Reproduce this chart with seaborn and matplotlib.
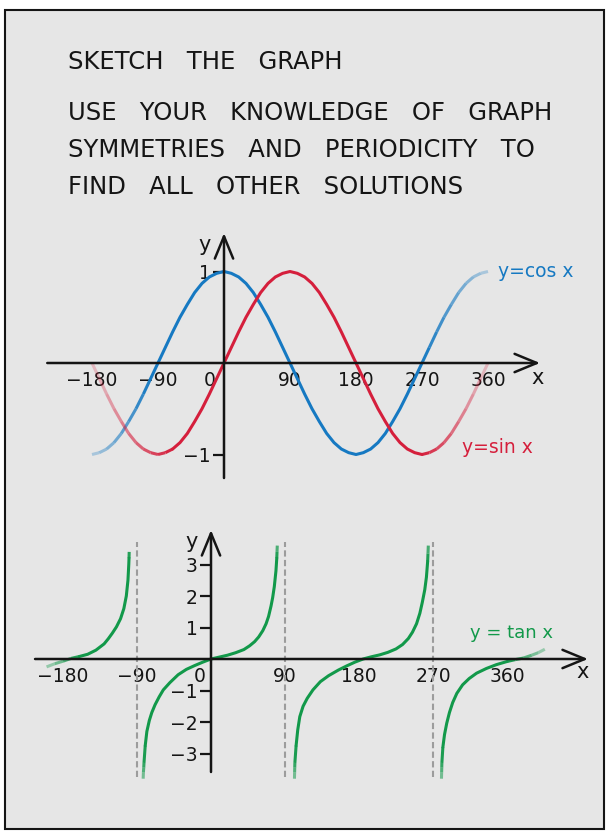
import numpy as np
import seaborn as sns
import matplotlib
matplotlib.use('Agg')
import matplotlib.pyplot as plt
from matplotlib.collections import LineCollection
from matplotlib.colors import to_rgba
from matplotlib.patches import Rectangle
from matplotlib.transforms import ScaledTranslation

# ---- data ----
deg = [-180, -170, -160, -150, -140, -130, -120, -110, -100, -90, -80, -70, -60, -50, -40, -30, -20, -10,
       0, 10, 20, 30, 40, 50, 60, 70, 80, 90, 100, 110, 120, 130, 140, 150, 160, 170,
       180, 190, 200, 210, 220, 230, 240, 250, 260, 270, 280, 290, 300, 310, 320, 330, 340, 350, 360]
cos_y = [-1, -0.98, -0.94, -0.87, -0.77, -0.64, -0.5, -0.34, -0.17, 0, 0.17, 0.34, 0.5, 0.64, 0.77, 0.87, 0.94, 0.98,
         1, 0.98, 0.94, 0.87, 0.77, 0.64, 0.5, 0.34, 0.17, 0, -0.17, -0.34, -0.5, -0.64, -0.77, -0.87, -0.94, -0.98,
         -1, -0.98, -0.94, -0.87, -0.77, -0.64, -0.5, -0.34, -0.17, 0, 0.17, 0.34, 0.5, 0.64, 0.77, 0.87, 0.94, 0.98, 1]
sin_y = [0, -0.17, -0.34, -0.5, -0.64, -0.77, -0.87, -0.94, -0.98, -1, -0.98, -0.94, -0.87, -0.77, -0.64, -0.5, -0.34, -0.17,
         0, 0.17, 0.34, 0.5, 0.64, 0.77, 0.87, 0.94, 0.98, 1, 0.98, 0.94, 0.87, 0.77, 0.64, 0.5, 0.34, 0.17,
         0, -0.17, -0.34, -0.5, -0.64, -0.77, -0.87, -0.94, -0.98, -1, -0.98, -0.94, -0.87, -0.77, -0.64, -0.5, -0.34, -0.17, 0]

# tan branches (x in degrees, y)
tan_a_x = [-200, -190, -180, -170, -160, -150, -140, -130, -125, -120, -115, -110, -106, -103, -101, -100, -99.7, -99.5]
tan_a_y = [-0.25, -0.15, -0.07, 0.02, 0.08, 0.15, 0.28, 0.48, 0.64, 0.82, 1.02, 1.28, 1.6, 2.0, 2.5, 3.0, 3.2, 3.4]
tan_b_x = [-82.5, -82.2, -81.8, -81.5, -80, -78, -75, -72, -68, -63, -58, -50, -40, -30, -20, -10, 0, 10, 20, 30, 40,
           47, 53, 58, 63, 67, 70, 73, 75, 77, 79, 80, 80.3, 80.6]
tan_b_y = [-3.8, -3.6, -3.45, -3.3, -2.75, -2.3, -1.95, -1.7, -1.45, -1.2, -0.98, -0.75, -0.5, -0.33, -0.21, -0.1, 0, 0.06, 0.12,
           0.2, 0.3, 0.42, 0.55, 0.7, 0.9, 1.12, 1.35, 1.68, 1.95, 2.3, 2.8, 3.2, 3.4, 3.6]
tan_c_x = [101.5, 101.7, 101.85, 102, 103.5, 105.5, 108, 112, 117, 124, 133, 143, 155, 165, 175, 185, 195, 205, 215, 225,
           233, 240, 245, 250, 254, 257, 260, 262, 263.5, 263.9, 264.3]
tan_c_y = [-3.8, -3.6, -3.45, -3.3, -2.75, -2.25, -1.83, -1.5, -1.25, -0.98, -0.72, -0.53, -0.35, -0.22, -0.1, 0, 0.07, 0.13,
           0.21, 0.32, 0.46, 0.65, 0.85, 1.12, 1.45, 1.8, 2.2, 2.6, 3.1, 3.35, 3.6]
tan_d_x = [280.3, 280.5, 280.65, 280.8, 282, 284, 286.7, 290, 294, 299, 306, 314, 323, 335, 347, 360, 370, 380, 390, 398, 406]
tan_d_y = [-3.8, -3.6, -3.45, -3.3, -2.8, -2.4, -2.04, -1.7, -1.38, -1.09, -0.82, -0.62, -0.45, -0.3, -0.18, -0.08, -0.02,
           0.03, 0.12, 0.2, 0.31]

x_ticks = [-180, -90, 0, 90, 180, 270, 360]
x_tick_labels = ['\u2212180', '\u221290', '0', '90', '180', '270', '360']
trig_y_ticks = [-1, 1]
trig_y_labels = ['\u22121', '1']
tan_y_ticks = [-3, -2, -1, 1, 2, 3]
tan_y_labels = ['\u22123', '\u22122', '\u22121', '1', '2', '3']
asymptotes = [-90, 90, 270]

title = 'SKETCH   THE   GRAPH'
body = ['USE   YOUR   KNOWLEDGE   OF   GRAPH',
        'SYMMETRIES   AND   PERIODICITY   TO',
        'FIND   ALL   OTHER   SOLUTIONS']

BLUE = '#1679c2'
RED = '#d51f3c'
GREEN = '#12994a'
INK = '#151515'
CARD = '#e6e6e6'
LW = 2.2

sns.set_theme(style='white')
plt.rcParams['font.family'] = ['DejaVu Sans']

W, H = 608, 831
fig = plt.figure(figsize=(W / 100, H / 100), dpi=100)
fig.patch.set_facecolor('white')
fig.patches.append(Rectangle((5 / W, 2 / H), 599 / W, 819 / H, transform=fig.transFigure,
                             facecolor=CARD, edgecolor=INK, lw=1.5, zorder=-5))

fig.text(68 / W, 1 - 62 / H, title, fontsize=17.5, color=INK, va='center')
for i, line in enumerate(body):
    fig.text(68 / W, 1 - (113 + 37 * i) / H, line, fontsize=17.5, color=INK, va='center')


def make_axes(box, origin, sx, sy):
    x0, x1, y0, y1 = box
    ax = fig.add_axes([x0 / W, 1 - y1 / H, (x1 - x0) / W, (y1 - y0) / H])
    ax.set_facecolor('none')
    ax.set_xlim((x0 - origin[0]) / sx, (x1 - origin[0]) / sx)
    ax.set_ylim((origin[1] - y1) / sy, (origin[1] - y0) / sy)
    for s in ['top', 'right', 'left', 'bottom']:
        ax.spines[s].set_visible(False)
    ax.spines['left'].set_position(('data', 0))
    ax.spines['bottom'].set_position(('data', 0))
    return ax


def draw_axes(ax, xr, yr):
    ap = dict(arrowstyle='->,head_length=0.8,head_width=0.33', lw=1.8, color=INK,
              shrinkA=0, shrinkB=0, mutation_scale=20)
    ax.annotate('', xy=(xr[1], 0), xytext=(xr[0], 0), arrowprops=ap)
    ax.annotate('', xy=(0, yr[1]), xytext=(0, yr[0]), arrowprops=ap)


def draw_curve(ax, xs, ys, color, alpha):
    xs = np.asarray(xs, float)
    ys = np.asarray(ys, float)
    a = (alpha[:-1] + alpha[1:]) / 2
    solid = np.r_[a >= 0.999, False] | np.r_[False, a >= 0.999]
    if solid.any():
        sns.lineplot(x=xs[solid], y=ys[solid], color=color, lw=LW, ax=ax,
                     sort=False, estimator=None, solid_capstyle='round')
    pts = np.column_stack([xs, ys]).reshape(-1, 1, 2)
    segs = np.concatenate([pts[:-1], pts[1:]], axis=1)
    faded = a < 0.999
    if faded.any():
        ax.add_collection(LineCollection(segs[faded], colors=[to_rgba(color, v) for v in a[faded]],
                                         lw=LW, capstyle='butt'))


def ramp(v, v0, v1, a0, a1):
    return np.interp(v, [v0, v1], [a0, a1])


def style_ticks(ax, yticks, ylabels, size):
    ax.set_xticks(x_ticks, x_tick_labels)
    ax.set_yticks(yticks, ylabels)
    ax.tick_params(axis='x', bottom=True, length=0, pad=6, labelsize=size, labelcolor=INK)
    ax.tick_params(axis='y', left=True, length=8, width=1.6, direction='out', color=INK, pad=1.5,
                   labelsize=size, labelcolor=INK)
    ax.grid(False)


# ---- top: sin and cos ----
ax1 = make_axes((30, 600, 220, 490), (224, 363), 66 / 90, 91.5)
draw_axes(ax1, (-241, 431), (-1.257, 1.42))
x = np.asarray(deg, float)
draw_curve(ax1, deg, cos_y, BLUE, np.minimum(ramp(x, -180, -100, 0.25, 1), ramp(x, 270, 360, 1, 0.25)))
draw_curve(ax1, deg, sin_y, RED, np.minimum(ramp(x, -180, -70, 0.2, 1), ramp(x, 270, 360, 1, 0.2)))
style_ticks(ax1, trig_y_ticks, trig_y_labels, 13.5)
ax1.annotate('y=cos x', xy=(deg[-1], cos_y[-1]), xytext=(7, 0), textcoords='offset points',
             color=BLUE, fontsize=13.5, va='center', ha='left')
ax1.annotate('y=sin x', xy=(270, -1), xytext=(29, 5), textcoords='offset points',
             color=RED, fontsize=13.5, va='center', ha='left')
ax1.text(-27, 1.29, 'y', fontsize=15, color=INK, ha='center', va='center')
ax1.text(427, -0.16, 'x', fontsize=15, color=INK, ha='center', va='center')

# ---- bottom: tan ----
ax2 = make_axes((20, 600, 520, 790), (211, 659), 74 / 90, 31.5)
ax2.vlines(asymptotes, -3.74, 3.72, colors='#9c9c9c', lw=1.5, linestyles=(0, (3, 1.6)))
draw_axes(ax2, (-214, 458.5), (-3.587, 4.095))
branches = [(tan_a_x, tan_a_y), (tan_b_x, tan_b_y), (tan_c_x, tan_c_y), (tan_d_x, tan_d_y)]
for bx, by in branches:
    bxa = np.asarray(bx, float)
    bya = np.asarray(by, float)
    a = ramp(np.abs(bya), 3.2, 3.8, 1, 0.45)
    a = np.minimum(a, ramp(bxa, -200, -160, 0.3, 1))
    a = np.minimum(a, ramp(bxa, 365, 406, 1, 0.3))
    draw_curve(ax2, bx, by, GREEN, a)
style_ticks(ax2, tan_y_ticks, tan_y_labels, 13.5)
ax2.text(315, 0.83, 'y = tan x', color=GREEN, fontsize=13, va='center', ha='left')
ax2.text(-23, 3.71, 'y', fontsize=15, color=INK, ha='center', va='center')
ax2.text(452, -0.41, 'x', fontsize=15, color=INK, ha='center', va='center')

# nudge the 0 labels left of the y axis
for ax, dx in [(ax1, -14), (ax2, -11)]:
    for lbl in ax.get_xticklabels():
        if lbl.get_text() == '0':
            lbl.set_transform(lbl.get_transform() + ScaledTranslation(dx / 100, 0, fig.dpi_scale_trans))

fig.savefig('out.png', dpi=100)
